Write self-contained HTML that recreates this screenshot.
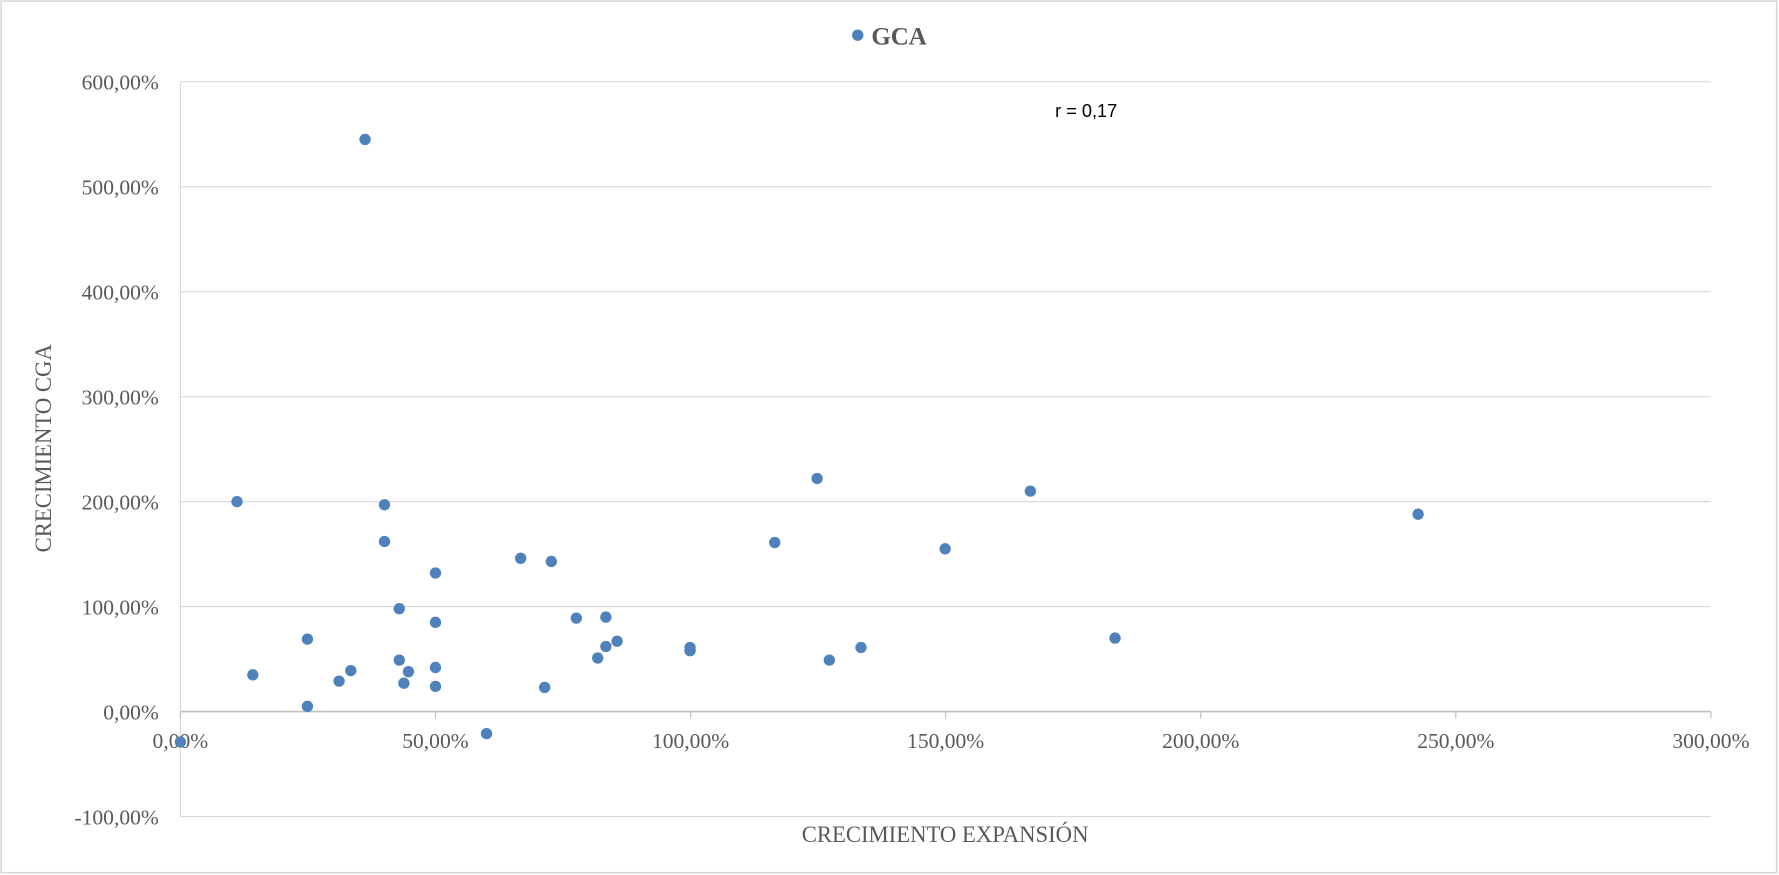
<!DOCTYPE html>
<html><head><meta charset="utf-8"><style>
html,body{margin:0;padding:0;background:#fff;}
svg{display:block;}
</style></head><body>
<svg id="chart" width="1779" height="875" viewBox="0 0 1568 771" preserveAspectRatio="none" xmlns="http://www.w3.org/2000/svg" font-family="'Liberation Serif', serif">
<rect x="1" y="1" width="1565" height="768" fill="#fff" stroke="#d9d9d9" stroke-width="1.5"/>
<g id="grid"></g><g id="ticks"></g><g id="pts"></g>
<g>
<circle cx="756" cy="31" r="5" fill="#4f81bd"/>
<text x="768" y="39" font-size="22" font-weight="bold" fill="#595959">GCA</text>
</g>
<text x="930" y="103" font-size="16" font-family="'Liberation Sans', sans-serif" fill="#000">r = 0,17</text>
<text x="833" y="742" text-anchor="middle" font-size="20" fill="#595959">CRECIMIENTO EXPANSIÓN</text>
<text transform="translate(45,395) rotate(-90)" text-anchor="middle" font-size="20" fill="#595959">CRECIMIENTO CGA</text>
</svg>
<script>
const xValues=[36.2,11.1,40,40,50,66.7,72.7,42.9,50,24.9,14.2,31.1,33.4,24.9,42.9,44.7,43.8,50,50,60,71.4,77.6,83.4,83.4,85.6,81.8,99.9,99.9,116.5,124.8,127.2,133.4,149.9,166.6,183.2,242.6,0];
const yValues=[545,200,197,162,132,146,143,98,85,69,35,29,39,5,49,38,27,42,24,-21,23,89,90,62,67,51,61,58,161,222,49,61,155,210,70,188,-29];
const xTicks=[0,50,100,150,200,250,300];
const yTicks=[-100,0,100,200,300,400,500,600];
const fmt=v=>v.toFixed(2).replace('.',',')+'%';
const X=v=>159+(v/300)*(1508-159);
const Y=v=>627-(v/600)*(627-72);
const NS='http://www.w3.org/2000/svg';
const grid=document.getElementById('grid'),ticks=document.getElementById('ticks'),pts=document.getElementById('pts');
function mk(tag,a,p){const e=document.createElementNS(NS,tag);for(const k in a)e.setAttribute(k,a[k]);p.appendChild(e);return e;}
yTicks.forEach(v=>{
 const l=mk('line',{x1:159,x2:1508,y1:Y(v),y2:Y(v),stroke:v===0?'#bfbfbf':'#d9d9d9','stroke-width':v===0?1.5:1},grid);
 
 
 const t=mk('text',{x:140,y:Y(v)+7,'text-anchor':'end','font-size':19,fill:'#595959'},ticks);
 t.textContent=fmt(v);
 
 
});
const ya=mk('line',{x1:159,x2:159,y1:72,y2:Y(-100),stroke:'#d9d9d9'},grid);


xTicks.forEach(v=>{
 const tk=mk('line',{x1:X(v),x2:X(v),y1:627,y2:633,stroke:'#bfbfbf'},grid);
 
 
 const t=mk('text',{x:X(v),y:659,'text-anchor':'middle','font-size':19,fill:'#595959'},ticks);
 t.textContent=fmt(v);
 
 
});
xValues.forEach((xv,i)=>{
 const c=mk('circle',{cx:X(xv),cy:Y(yValues[i]),r:5,fill:'#4f81bd'},pts);
 
 
});
</script>
</body></html>
